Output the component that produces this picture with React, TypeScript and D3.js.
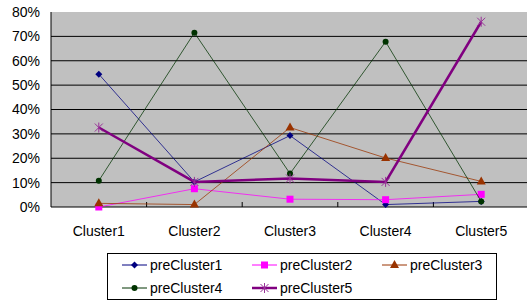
import React from "react";
import * as d3 from "d3";

const categories = ["Cluster1", "Cluster2", "Cluster3", "Cluster4", "Cluster5"];
const yTicks = [0, 0.1, 0.2, 0.3, 0.4, 0.5, 0.6, 0.7, 0.8];
const preCluster1 = [0.545, 0.103, 0.293, 0.01, 0.023];
const preCluster2 = [0.0, 0.075, 0.032, 0.03, 0.052];
const preCluster3 = [0.015, 0.01, 0.326, 0.201, 0.105];
const preCluster4 = [0.108, 0.715, 0.137, 0.678, 0.023];
const preCluster5 = [0.326, 0.103, 0.117, 0.103, 0.76];
const seriesNames = ["preCluster1", "preCluster2", "preCluster3", "preCluster4", "preCluster5"];
const seriesValues = [preCluster1, preCluster2, preCluster3, preCluster4, preCluster5];
const seriesColors = ["#000080", "#FF00FF", "#993300", "#003300", "#800080"];
const seriesWidths = [1, 1, 1, 1, 2.5];
const seriesMarkers = ["diamond", "square", "triangle", "circle", "star"];

const W = 527, H = 302;
const left = 51, top = 12, bottom = 207;
const band = 95.6;

function Marker({ type, x, y, color }: { type: string; x: number; y: number; color: string }) {
  if (type === "diamond") {
    return <path d={`M${x},${y - 3.5}L${x + 3.5},${y}L${x},${y + 3.5}L${x - 3.5},${y}Z`} fill={color} />;
  }
  if (type === "square") {
    return <rect x={x - 3.5} y={y - 3.5} width={7} height={7} fill={color} />;
  }
  if (type === "triangle") {
    return <path d={`M${x},${y - 5}L${x + 4.5},${y + 3}L${x - 4.5},${y + 3}Z`} fill={color} />;
  }
  if (type === "circle") {
    return <circle cx={x} cy={y} r={3} fill={color} />;
  }
  return (
    <g stroke="#993399" strokeWidth={1}>
      <line x1={x - 4} y1={y - 4} x2={x + 4} y2={y + 4} />
      <line x1={x - 4} y1={y + 4} x2={x + 4} y2={y - 4} />
      <line x1={x} y1={y - 5} x2={x} y2={y + 5} />
    </g>
  );
}

export default function App() {
  const x = d3.scaleBand().domain(categories).range([left, left + band * categories.length]);
  const y = d3.scaleLinear().domain([0, 0.8]).range([bottom, top]);
  const line = d3
    .line<number>()
    .x((_, i) => (x(categories[i]) as number) + x.bandwidth() / 2)
    .y((d) => y(d));
  const font = "Arial, 'Liberation Sans', sans-serif";
  const legendCols = [122, 252, 382];
  const legendRows = [265, 288];
  return (
    <svg width={W} height={H} style={{ position: "absolute", left: 0, top: 0 }} fontFamily={font}>
      <rect x={0} y={0} width={W} height={H} fill="#fff" />
      <rect x={left} y={top} width={band * 5} height={bottom - top} fill="#C0C0C0" />
      {yTicks.slice(1, -1).map((t) => (
        <line key={t} x1={left} x2={left + band * 5} y1={y(t)} y2={y(t)} stroke="#000" strokeWidth={1} />
      ))}
      <line x1={left} x2={left + band * 5} y1={bottom} y2={bottom} stroke="#000" />
      <line x1={left} x2={left} y1={top} y2={bottom} stroke="#000" />
      {categories.slice(1).map((c) => (
        <line key={c} x1={x(c)} x2={x(c)} y1={bottom} y2={bottom - 5} stroke="#000" />
      ))}
      {yTicks.map((t) => (
        <text key={t} x={40} y={y(t)} dy="0.35em" textAnchor="end" fontSize={14} fill="#000">
          {d3.format(".0%")(t)}
        </text>
      ))}
      {categories.map((c) => (
        <text key={c} x={(x(c) as number) + x.bandwidth() / 2} y={236} textAnchor="middle" fontSize={14} fill="#000">
          {c}
        </text>
      ))}
      {seriesValues.map((vals, si) => (
        <g key={si}>
          <path d={line(vals) as string} fill="none" stroke={seriesColors[si]} strokeWidth={seriesWidths[si]} opacity={si === 4 ? 1 : 0.75} />
          {vals.map((v, i) => (
            <Marker key={i} type={seriesMarkers[si]} x={(x(categories[i]) as number) + x.bandwidth() / 2} y={y(v)} color={seriesColors[si]} />
          ))}
        </g>
      ))}
      <rect x={107.5} y={253.5} width={389} height={46} fill="#fff" stroke="#000" strokeWidth={1} />
      {seriesNames.map((n, si) => {
        const cx = legendCols[si % 3];
        const cy = legendRows[Math.floor(si / 3)];
        return (
          <g key={n}>
            <line x1={cx} x2={cx + 25} y1={cy} y2={cy} stroke={seriesColors[si]} strokeWidth={seriesWidths[si]} />
            <Marker type={seriesMarkers[si]} x={cx + 12.5} y={cy} color={seriesColors[si]} />
            <text x={cx + 28} y={cy} dy="0.35em" fontSize={14} fill="#000">
              {n}
            </text>
          </g>
        );
      })}
    </svg>
  );
}
